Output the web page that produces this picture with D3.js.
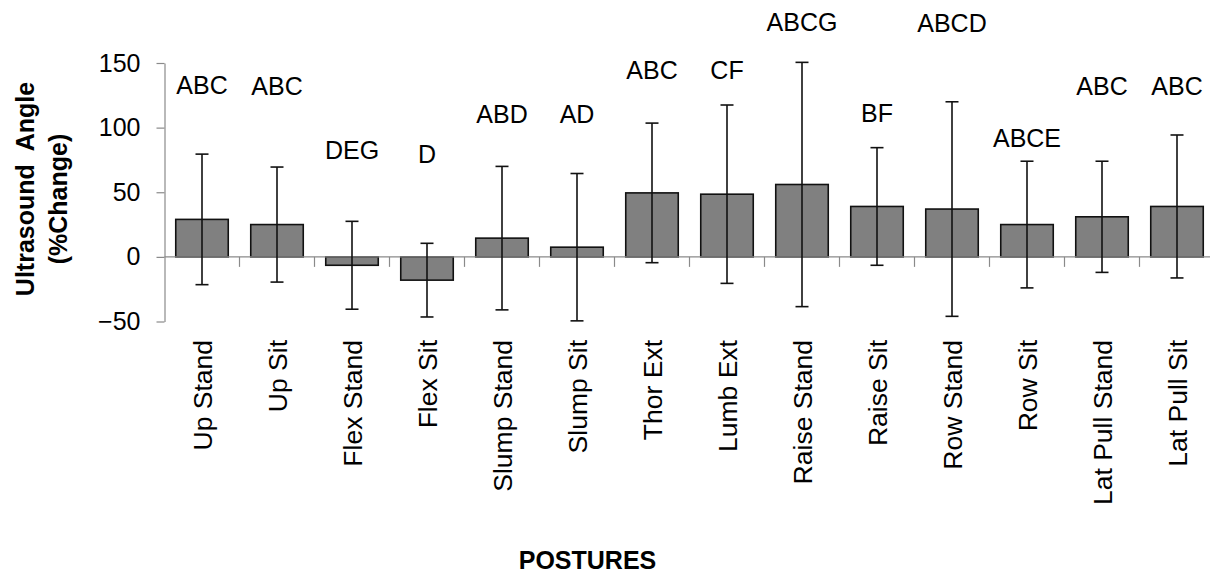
<!DOCTYPE html>
<html>
<head>
<meta charset="utf-8">
<script src="https://cdn.jsdelivr.net/npm/d3@7"></script>
<style>
  html, body { margin: 0; padding: 0; background: #fff; }
  svg { display: block; }
  text { font-family: "Liberation Sans", Arial, sans-serif; fill: #000; }
</style>
</head>
<body>
<svg id="chart" width="1210" height="575"></svg>
<script>
// Postures and their mean ultrasound angle change (%), with standard deviations
const categories = ["Up Stand", "Up Sit", "Flex Stand", "Flex Sit", "Slump Stand", "Slump Sit",
  "Thor Ext", "Lumb Ext", "Raise Stand", "Raise Sit", "Row Stand", "Row Sit",
  "Lat Pull Stand", "Lat Pull Sit"];
const means = [29, 25, -6.5, -18, 14.5, 7.5, 49.5, 48.5, 56, 39, 37, 25, 31, 39];
const sds = [50.5, 44.5, 34, 28.5, 55.5, 57, 54, 69, 94.5, 45.5, 83, 49, 43, 55.3];

// Significance letters and the level (in axis units) at which each sits
const letters = ["ABC", "ABC", "DEG", "D", "ABD", "AD", "ABC", "CF", "ABCG", "BF", "ABCD", "ABCE", "ABC", "ABC"];
const letterLevels = [126, 125, 75.5, 72.5, 103.5, 103.5, 137.5, 138, 174.5, 104.5, 174, 85, 125.5, 125];

const yTicks = [-50, 0, 50, 100, 150];

const svg = d3.select("#chart");
const axisColor = "#8a8a8a";

const x = d3.scaleBand()
  .domain(categories)
  .range([164.5, 1214.5])
  .paddingInner(0.3)
  .paddingOuter(0.15);

const y = d3.scaleLinear()
  .domain([-50, 150])
  .range([321.5, 63]);

// Y axis
const yAxis = svg.append("g")
  .attr("transform", `translate(${x.range()[0]},0)`)
  .call(d3.axisLeft(y).tickValues(yTicks).tickSize(8).tickPadding(16).tickSizeOuter(0));
yAxis.select(".domain").attr("stroke", axisColor).attr("stroke-width", 1.2);
yAxis.selectAll(".tick line").attr("stroke", axisColor).attr("stroke-width", 1.2);
yAxis.selectAll(".tick text")
  .style("font-size", "25px")
  .style("font-family", "'Liberation Sans', Arial, sans-serif")
  .attr("fill", "#000");

// Bars
svg.append("g").selectAll("rect")
  .data(categories)
  .join("rect")
  .attr("x", d => x(d))
  .attr("width", x.bandwidth())
  .attr("y", (d, i) => y(Math.max(0, means[i])))
  .attr("height", (d, i) => Math.abs(y(means[i]) - y(0)))
  .attr("fill", "#808080")
  .attr("stroke", "#111")
  .attr("stroke-width", 1.6);

// Category axis along zero, with ticks between categories
const step = x.step();
const x0 = x.range()[0];
svg.append("line")
  .attr("x1", x0).attr("x2", x.range()[1])
  .attr("y1", y(0)).attr("y2", y(0))
  .attr("stroke", axisColor).attr("stroke-width", 1.2);
svg.append("g").selectAll("line")
  .data(d3.range(1, categories.length))
  .join("line")
  .attr("x1", i => x0 + i * step).attr("x2", i => x0 + i * step)
  .attr("y1", y(0)).attr("y2", y(0) + 10)
  .attr("stroke", axisColor).attr("stroke-width", 1.2);

// Error bars
const cap = 6.5;
const err = svg.append("g").attr("stroke", "#111").attr("stroke-width", 1.6);
categories.forEach((c, i) => {
  const cx = x(c) + x.bandwidth() / 2;
  const hi = y(means[i] + sds[i]);
  const lo = y(means[i] - sds[i]);
  err.append("line").attr("x1", cx).attr("x2", cx).attr("y1", hi).attr("y2", lo);
  err.append("line").attr("x1", cx - cap).attr("x2", cx + cap).attr("y1", hi).attr("y2", hi);
  err.append("line").attr("x1", cx - cap).attr("x2", cx + cap).attr("y1", lo).attr("y2", lo);
});

// Significance letters
svg.append("g").selectAll("text")
  .data(categories)
  .join("text")
  .attr("x", d => x(d) + x.bandwidth() / 2)
  .attr("y", (d, i) => y(letterLevels[i]))
  .attr("text-anchor", "middle")
  .style("font-size", "25px")
  .text((d, i) => letters[i]);

// Rotated category labels
svg.append("g").selectAll("text")
  .data(categories)
  .join("text")
  .attr("transform", d => `translate(${x(d) + x.bandwidth() / 2},340) rotate(-90)`)
  .attr("text-anchor", "end")
  .attr("dy", "0.36em")
  .style("font-size", "26.5px")
  .text(d => d);

// Axis titles
svg.append("text")
  .attr("transform", "translate(34,189) rotate(-90)")
  .attr("text-anchor", "middle")
  .style("font-size", "25px")
  .style("font-weight", "bold")
  .attr("xml:space", "preserve")
  .text("Ultrasound  Angle");
svg.append("text")
  .attr("transform", "translate(67,199) rotate(-90)")
  .attr("text-anchor", "middle")
  .style("font-size", "25px")
  .style("font-weight", "bold")
  .text("(%Change)");

svg.append("text")
  .attr("x", 587.5)
  .attr("y", 569)
  .attr("text-anchor", "middle")
  .style("font-size", "25px")
  .style("font-weight", "bold")
  .text("POSTURES");
</script>
</body>
</html>
